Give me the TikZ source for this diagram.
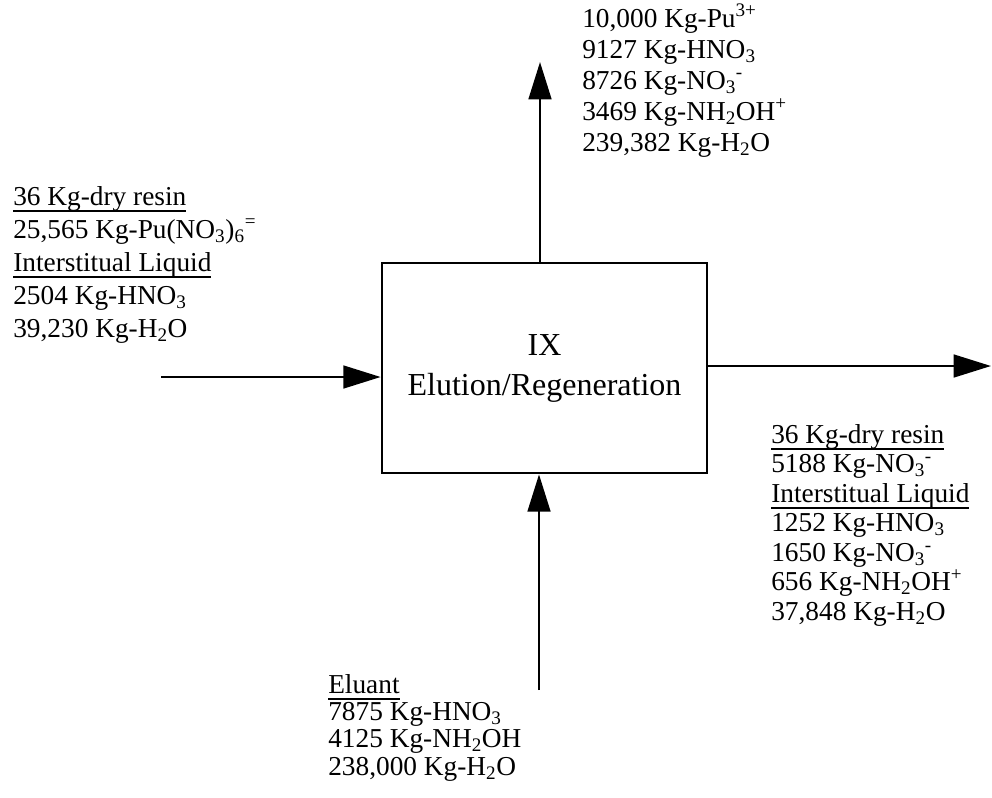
\documentclass[tikz,border=0pt]{standalone}
\usepackage{fontspec}
\setmainfont{Liberation Serif}
\usetikzlibrary{arrows.meta}
\newcommand{\ulbar}[1]{\setbox0=\hbox{#1}\rlap{\rule[-5pt]{\wd0}{1.4pt}}\box0}
\begin{document}
\begin{tikzpicture} [x = 0.75pt, y = -0.75pt,
        flow/.style = {line width = 2pt, -{Triangle[length = 28pt, width = 17pt]}},
        stream/.style = {anchor = base west, align = left, inner sep = 0pt,
          font = \fontsize{20.5}{#1}\selectfont},
        stream/.default = 22pt]

        \useasboundingbox (0,0) rectangle (992,797);

        \node (ix) [draw, line width = 2pt, minimum width = 243.75pt,
          minimum height = 157.5pt, align = center,
          font = \fontsize{24}{30}\selectfont] at (544.5,368)
          {IX\\Elution/Regeneration};

        \coordinate (feed) at (161,377); \coordinate (product) at (540,62);
        \coordinate (spent) at (991,366); \coordinate (eluant) at (539,690);

        \node (feedtxt) [stream = 24.75pt] at (13,337)
          {\ulbar{36 Kg-dry resin}\\
           25,565 Kg-Pu(NO\textsubscript{3})\textsubscript{6}\textsuperscript{=}\\
           \ulbar{Interstitual Liquid}\\
           2504 Kg-HNO\textsubscript{3}\\
           39,230 Kg-H\textsubscript{2}O};
        \node (producttxt) [stream = 23.25pt] at (582,151)
          {10,000 Kg-Pu\textsuperscript{3+}\\
           9127 Kg-HNO\textsubscript{3}\\
           8726 Kg-NO\textsubscript{3}\textsuperscript{-}\\
           3469 Kg-NH\textsubscript{2}OH\textsuperscript{+}\\
           239,382 Kg-H\textsubscript{2}O};
        \node (spenttxt) [stream = 22.1pt] at (771,620)
          {\ulbar{36 Kg-dry resin}\\
           5188 Kg-NO\textsubscript{3}\textsuperscript{-}\\
           \ulbar{Interstitual Liquid}\\
           1252 Kg-HNO\textsubscript{3}\\
           1650 Kg-NO\textsubscript{3}\textsuperscript{-}\\
           656 Kg-NH\textsubscript{2}OH\textsuperscript{+}\\
           37,848 Kg-H\textsubscript{2}O};
        \node (eluanttxt) [stream = 20.5pt] at (328,775)
          {\ulbar{Eluant}\\
           7875 Kg-HNO\textsubscript{3}\\
           4125 Kg-NH\textsubscript{2}OH\\
           238,000 Kg-H\textsubscript{2}O};

        \draw [flow] (feed) -- (feed -| ix.west);
        \draw [flow] (product |- ix.north) -- (product);
        \draw [flow] (spent -| ix.east) -- (spent);
        \draw [flow] (eluant) -- (eluant |- ix.south);

    \end{tikzpicture}
\end{document}
